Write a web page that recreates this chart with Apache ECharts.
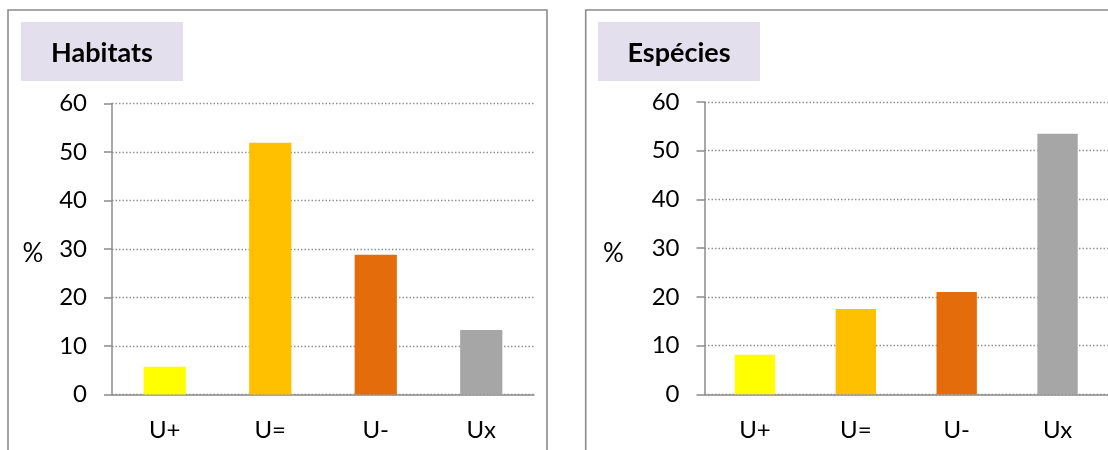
<!DOCTYPE html>
<html>
<head>
<meta charset="utf-8">
<script src="https://cdn.jsdelivr.net/npm/echarts@6/dist/echarts.min.js"></script>
<style>
  html, body { margin: 0; padding: 0; background: #fff; }
  #chart { width: 1108px; height: 450px; }
</style>
</head>
<body>
<div id="chart"></div>
<script>
// Conservation status categories and shares (%) per group
const categories = ['U+', 'U=', 'U-', 'Ux'];
const habitatValues = [5.7, 51.9, 28.8, 13.3];
const speciesValues = [8.1, 17.5, 21.0, 53.5];
const barColors = ['#ffff00', '#ffc000', '#e46c0a', '#a6a6a6'];
const panelTitles = ['Habitats', 'Espécies'];
const yUnit = '%';
const yMin = 0, yMax = 60, yStep = 10;

const FONT = 'Lato, "Open Sans", sans-serif';
const AXIS_GREY = '#8c8c8c';

const grids = [
  { left: 112, top: 103.5, width: 422, height: 291 },
  { left: 704.5, top: 102, width: 408, height: 292.3 }
];

function xAxisFor(i) {
  return {
    type: 'category',
    gridIndex: i,
    data: categories,
    axisLine: { lineStyle: { color: AXIS_GREY, width: 1.5 } },
    axisTick: { length: 7, lineStyle: { color: AXIS_GREY, width: 1.5 } },
    axisLabel: { margin: 24, fontSize: 24, color: '#000', fontFamily: FONT },
    splitLine: { show: false }
  };
}

function yAxisFor(i) {
  return {
    type: 'value',
    gridIndex: i,
    min: yMin, max: yMax, interval: yStep,
    axisLine: { show: true, lineStyle: { color: AXIS_GREY, width: 1.5 } },
    axisTick: { show: true, length: 8, lineStyle: { color: AXIS_GREY, width: 1.5 } },
    axisLabel: { margin: 25, fontSize: 24, color: '#000', fontFamily: FONT },
    splitLine: { show: true, lineStyle: { color: '#8f8f8f', width: 1.3, type: [1.5, 2] } }
  };
}

function barSeries(i, values) {
  return {
    type: 'bar',
    xAxisIndex: i,
    yAxisIndex: i,
    barWidth: '40%',
    data: values.map((v, k) => ({ value: v, itemStyle: { color: barColors[k] } })),
    silent: true
  };
}

// Panel frames, title boxes and unit labels
const panels = [
  { frameX: 8, boxX: 21, boxW: 162, unitX: 33 },
  { frameX: 585.7, boxX: 598, boxW: 162, unitX: 613.5 }
];
const graphics = [];
panels.forEach((p, i) => {
  graphics.push({
    type: 'rect', z: 0,
    shape: { x: p.frameX, y: 10, width: 539, height: 470 },
    style: { fill: 'none', stroke: AXIS_GREY, lineWidth: 1.6 }
  });
  graphics.push({
    type: 'rect', z: 1,
    shape: { x: p.boxX, y: 22, width: p.boxW, height: 59 },
    style: { fill: '#e4dfec' }
  });
  graphics.push({
    type: 'text', z: 2,
    x: p.boxX + p.boxW / 2, y: 53,
    style: {
      text: panelTitles[i], fill: '#000',
      font: 'bold 27px ' + FONT,
      align: 'center', verticalAlign: 'middle'
    }
  });
  graphics.push({
    type: 'text', z: 2,
    x: p.unitX, y: 254,
    style: {
      text: yUnit, fill: '#000',
      font: '26px ' + FONT,
      align: 'center', verticalAlign: 'middle'
    }
  });
});

const chart = echarts.init(document.getElementById('chart'), null, { renderer: 'canvas' });
chart.setOption({
  animation: false,
  backgroundColor: '#fff',
  grid: grids,
  xAxis: [xAxisFor(0), xAxisFor(1)],
  yAxis: [yAxisFor(0), yAxisFor(1)],
  series: [barSeries(0, habitatValues), barSeries(1, speciesValues)],
  graphic: graphics
});
</script>
</body>
</html>
